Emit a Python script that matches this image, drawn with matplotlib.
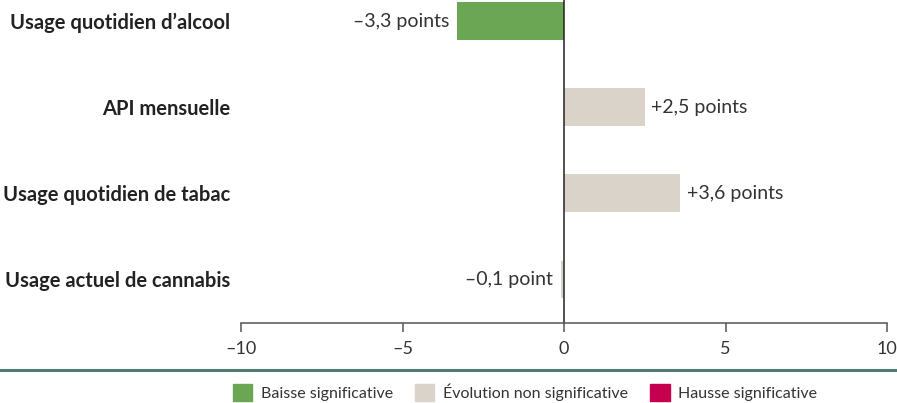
import matplotlib.pyplot as plt
from matplotlib.patches import Patch
from matplotlib.lines import Line2D

categories = ["Usage quotidien d’alcool", "API mensuelle",
              "Usage quotidien de tabac", "Usage actuel de cannabis"]
values = [-3.3, 2.5, 3.6, -0.1]
labels = ["–3,3 points", "+2,5 points", "+3,6 points", "–0,1 point"]
status = ["baisse", "ns", "ns", "ns"]

colors = {"baisse": "#6ba655", "ns": "#d9d3ca", "hausse": "#c4004f"}
legend_labels = {"baisse": "Baisse significative",
                 "ns": "Évolution non significative",
                 "hausse": "Hausse significative"}

plt.rcParams["font.family"] = ["Lato", "DejaVu Sans"]

W, H = 897, 403
fig = plt.figure(figsize=(W / 100, H / 100), dpi=100)
ax = fig.add_axes([241 / W, 1 - 323 / H, (887 - 241) / W, 323 / H])

ypos = list(range(len(categories)))
ax.barh(ypos, values, height=0.44, color=[colors[s] for s in status])

for y, v, lab in zip(ypos, values, labels):
    if v < 0:
        ax.annotate(lab, (v, y), xytext=(-5.5, 0), textcoords="offset points",
                    ha="right", va="center", fontsize=14, color="#333333")
    else:
        ax.annotate(lab, (v, y), xytext=(4.5, 0), textcoords="offset points",
                    ha="left", va="center", fontsize=14, color="#333333")

ax.set_xlim(-10, 10)
ax.set_ylim(3.505, -0.244)
ax.axvline(0, color="#222222", lw=1.1)

ax.set_yticks(ypos)
ax.set_yticklabels(categories, fontweight="bold", fontsize=14.5, color="#222222")
ax.tick_params(axis="y", length=0, pad=7.5)
ax.set_xticks([-10, -5, 0, 5, 10])
ax.set_xticklabels(["–10", "–5", "0", "5", "10"], fontsize=13, color="#333333")
ax.tick_params(axis="x", direction="out", length=6.5, width=1.1, color="#555555", pad=6.5)

for side in ["top", "right", "left"]:
    ax.spines[side].set_visible(False)
ax.spines["bottom"].set_color("#555555")
ax.spines["bottom"].set_linewidth(1.1)

fig.add_artist(Line2D([0, 1], [1 - 370 / H, 1 - 370 / H], transform=fig.transFigure,
                      color="#4f7a70", lw=2.2))

handles = [Patch(color=colors[k]) for k in ["baisse", "ns", "hausse"]]
fig.legend(handles, [legend_labels[k] for k in ["baisse", "ns", "hausse"]],
           loc="center", bbox_to_anchor=(525 / W, 1 - 392 / H), ncol=3, frameon=False,
           fontsize=11.5, handlelength=1.2, handleheight=1.2, handletextpad=0.55,
           columnspacing=1.4, labelcolor="#333333", borderpad=0, borderaxespad=0)

fig.savefig("out.png", dpi=100)
